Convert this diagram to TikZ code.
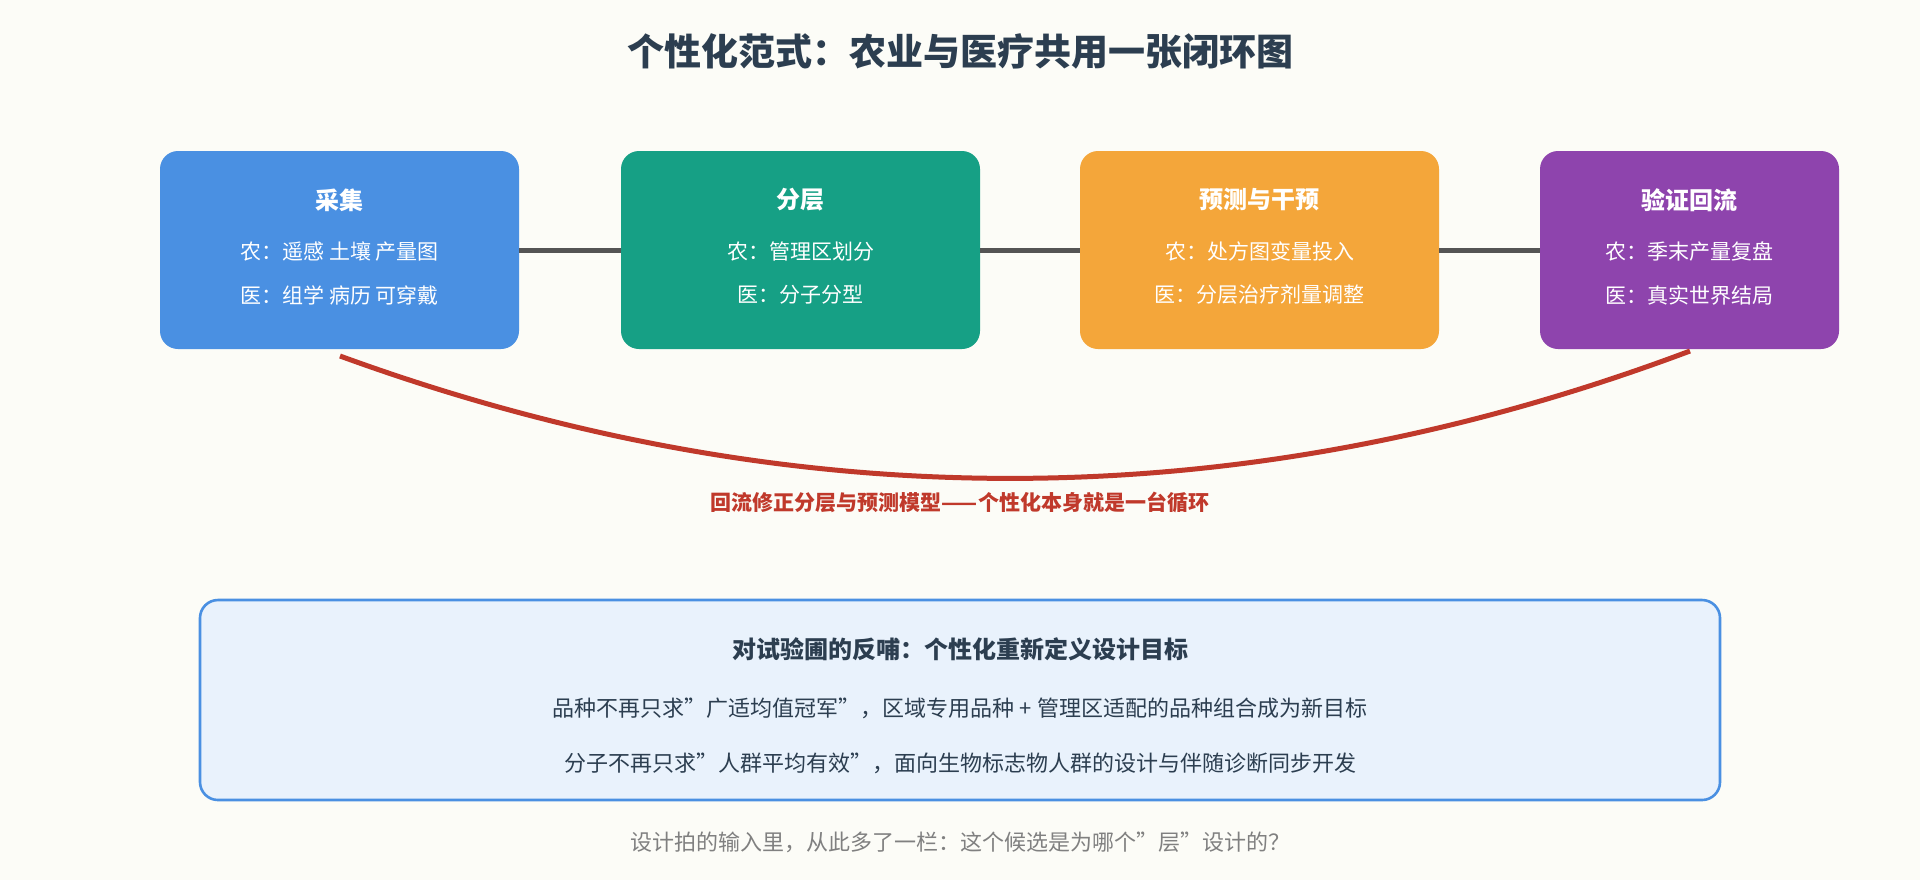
\documentclass[tikz,border=0pt]{standalone}
\usepackage{fontspec}
\setmainfont{Noto Sans CJK SC}
\begin{document}
\begin{tikzpicture}[x=0.5pt,y=-0.5pt,
 box/.style={rounded corners=9pt,minimum height=99pt,inner sep=0pt,text=white,align=center},
 conn/.style={line width=2.5pt,draw=black!67},
 btitle/.style={font=\fontsize{12}{14}\selectfont\bfseries},
 bline/.style={font=\fontsize{10.5}{13}\selectfont}]
\definecolor{bg}{HTML}{FCFCF7}
\definecolor{cb}{HTML}{4A90E2}\definecolor{ct}{HTML}{16A085}
\definecolor{co}{HTML}{F4A63A}\definecolor{cp}{HTML}{8E44AD}
\definecolor{cr}{HTML}{C0392B}\definecolor{dk}{HTML}{2C3E50}
\fill[bg] (0,0) rectangle (1920,880);
\useasboundingbox (0,0) rectangle (1920,880);
\node[text=dk,font=\fontsize{18.5}{22}\selectfont\bfseries] (title) at (960,51) {个性化范式：农业与医疗共用一张闭环图};
\foreach \n/\xa/\xb/\c in {b1/160/519/cb,b2/621/980/ct,b3/1080/1439/co,b4/1540/1839/cp}{
 \fill[\c,rounded corners=9pt] (\xa,151) rectangle (\xb,349);
 \coordinate (\n) at ({(\xa+\xb)/2},250);
 \coordinate (\n l) at (\xa,250); \coordinate (\n r) at (\xb,250);
}
\draw[conn] (b1r) -- (b2l); \draw[conn] (b2r) -- (b3l); \draw[conn] (b3r) -- (b4l);
\foreach \n/\t/\a/\b in {b1/采集/农：遥感 土壤 产量图/医：组学 病历 可穿戴,
 b2/分层/农：管理区划分/医：分子分型,
 b3/预测与干预/农：处方图变量投入/医：分层治疗剂量调整,
 b4/验证回流/农：季末产量复盘/医：真实世界结局}{
 \node[btitle,text=white] (\n t) at ([yshift=25pt]\n) {\t};
 \node[bline,text=white] (\n a) at ([yshift=-0.5pt]\n) {\a};
 \node[bline,text=white] (\n b) at ([yshift=-22.5pt]\n) {\b};
}
\coordinate (as) at (340,356); \coordinate (ae) at (1690,351);
\draw[cr,line width=2.5pt] (as) .. controls (790,520) and (1240,520) .. (ae);
\node[text=cr,font=\fontsize{10.5}{13}\selectfont\bfseries] (al) at (960,502) {回流修正分层与预测模型——个性化本身就是一台循环};
\draw[cb,fill=cb!12,line width=1.3pt,rounded corners=9pt] (200,600) rectangle (1720,800);
\node[text=dk,font=\fontsize{12}{14}\selectfont\bfseries] (bt) at (960,649) {对试验圃的反哺：个性化重新定义设计目标};
\node[text=dk,font=\fontsize{11}{13}\selectfont] (l1) at (960,708) {品种不再只求"广适均值冠军"，区域专用品种 + 管理区适配的品种组合成为新目标};
\node[text=dk,font=\fontsize{11}{13}\selectfont] (l2) at (960,763) {分子不再只求"人群平均有效"，面向生物标志物人群的设计与伴随诊断同步开发};
\node[text=gray,font=\fontsize{11}{13}\selectfont] (ft) at (960,842) {设计拍的输入里，从此多了一栏：这个候选是为哪个"层"设计的？};
\end{tikzpicture}
\end{document}
